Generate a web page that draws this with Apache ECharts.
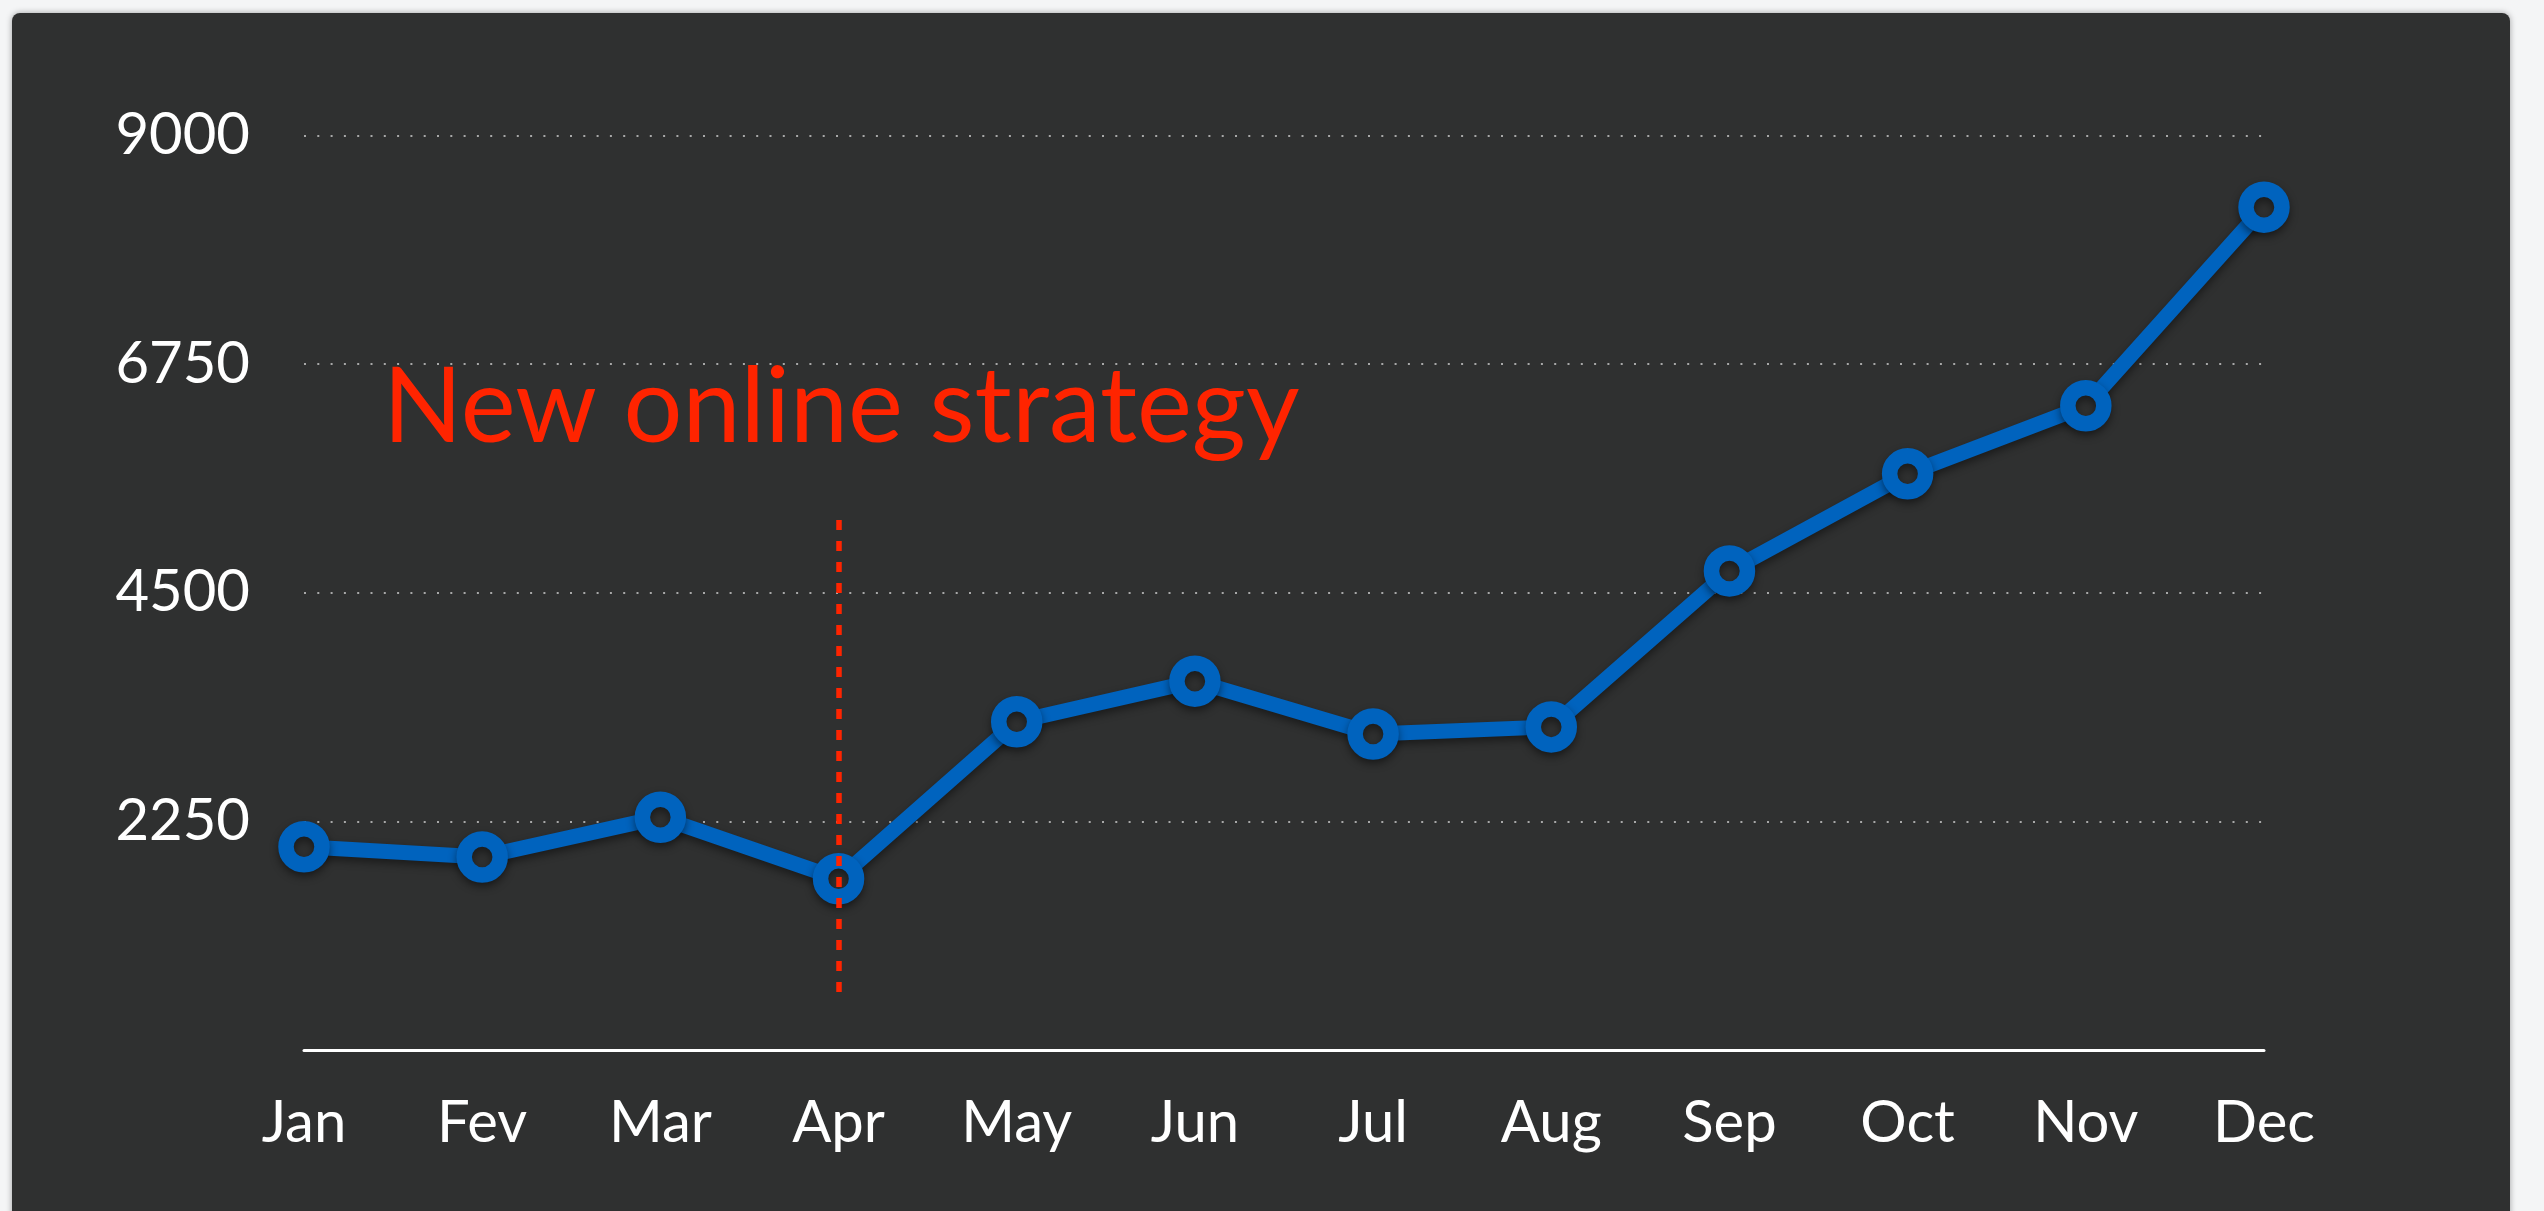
<!DOCTYPE html>
<html>
<head>
<meta charset="utf-8">
<script src="https://cdn.jsdelivr.net/npm/echarts@6/dist/echarts.min.js"></script>
<style>
  html, body { margin: 0; padding: 0; width: 2544px; height: 1211px; overflow: hidden; background: #f4f5f6; }
  #panel { position: absolute; left: 12px; top: 13px; width: 2498px; height: 1240px; background: #2f3030; border-radius: 8px; box-shadow: 0 0 6px rgba(0,0,0,0.35); }
  #chart { position: absolute; left: 0; top: 0; width: 2544px; height: 1211px; }
</style>
</head>
<body>
<div id="panel"></div>
<div id="chart"></div>
<script>
const months = ['Jan', 'Fev', 'Mar', 'Apr', 'May', 'Jun', 'Jul', 'Aug', 'Sep', 'Oct', 'Nov', 'Dec'];
const sales = [2000, 1900, 2290, 1685, 3230, 3630, 3110, 3180, 4715, 5670, 6340, 8295];
const yTicks = { min: 0, max: 9000, interval: 2250 };
const annotationText = 'New online strategy';
const markerMonth = 'Apr';
const markerSpan = [5215, 490];

const chart = echarts.init(document.getElementById('chart'), null, { renderer: 'canvas' });
const font = 'Lato, "Open Sans", "DejaVu Sans", sans-serif';

chart.setOption({
  backgroundColor: 'transparent',
  animation: false,
  grid: { left: 304, right: 280, top: 135.5, bottom: 161, containLabel: false },
  xAxis: {
    type: 'category',
    data: months,
    boundaryGap: false,
    axisLine: { show: true, lineStyle: { color: '#ffffff', width: 3 } },
    axisTick: { show: false },
    axisLabel: { color: '#ffffff', fontFamily: font, fontSize: 58, margin: 44 },
    splitLine: { show: false }
  },
  yAxis: {
    type: 'value',
    min: yTicks.min,
    max: yTicks.max,
    interval: yTicks.interval,
    axisLine: { show: false },
    axisTick: { show: false },
    axisLabel: {
      color: '#ffffff', fontFamily: font, fontSize: 58, margin: 54,
      showMinLabel: false,
      formatter: function (v) { return String(v); }
    },
    splitLine: { show: true, lineStyle: { color: '#a8a8a8', width: 2, type: [2, 11.3] } }
  },
  graphic: [{
    type: 'text',
    left: 383,
    top: 356,
    style: { text: annotationText, fill: '#ff2400', font: '104px ' + font }
  }],
  series: [{
    type: 'line',
    data: sales,
    symbol: 'circle',
    symbolSize: 36,
    lineStyle: { color: '#0063be', width: 15, shadowColor: 'rgba(0,0,0,0.45)', shadowBlur: 8, shadowOffsetY: 4 },
    itemStyle: { color: '#2f3030', borderColor: '#0063be', borderWidth: 15.5, shadowColor: 'rgba(0,0,0,0.45)', shadowBlur: 8, shadowOffsetY: 4 },
    emphasis: { disabled: true },
    z: 3,
    markLine: {
      silent: true,
      symbol: ['none', 'none'],
      label: { show: false },
      lineStyle: { color: '#ff2400', width: 5.5, type: [10, 11] },
      z: 5,
      data: [[{ coord: [markerMonth, markerSpan[0]] }, { coord: [markerMonth, markerSpan[1]] }]]
    }
  }]
});
</script>
</body>
</html>
